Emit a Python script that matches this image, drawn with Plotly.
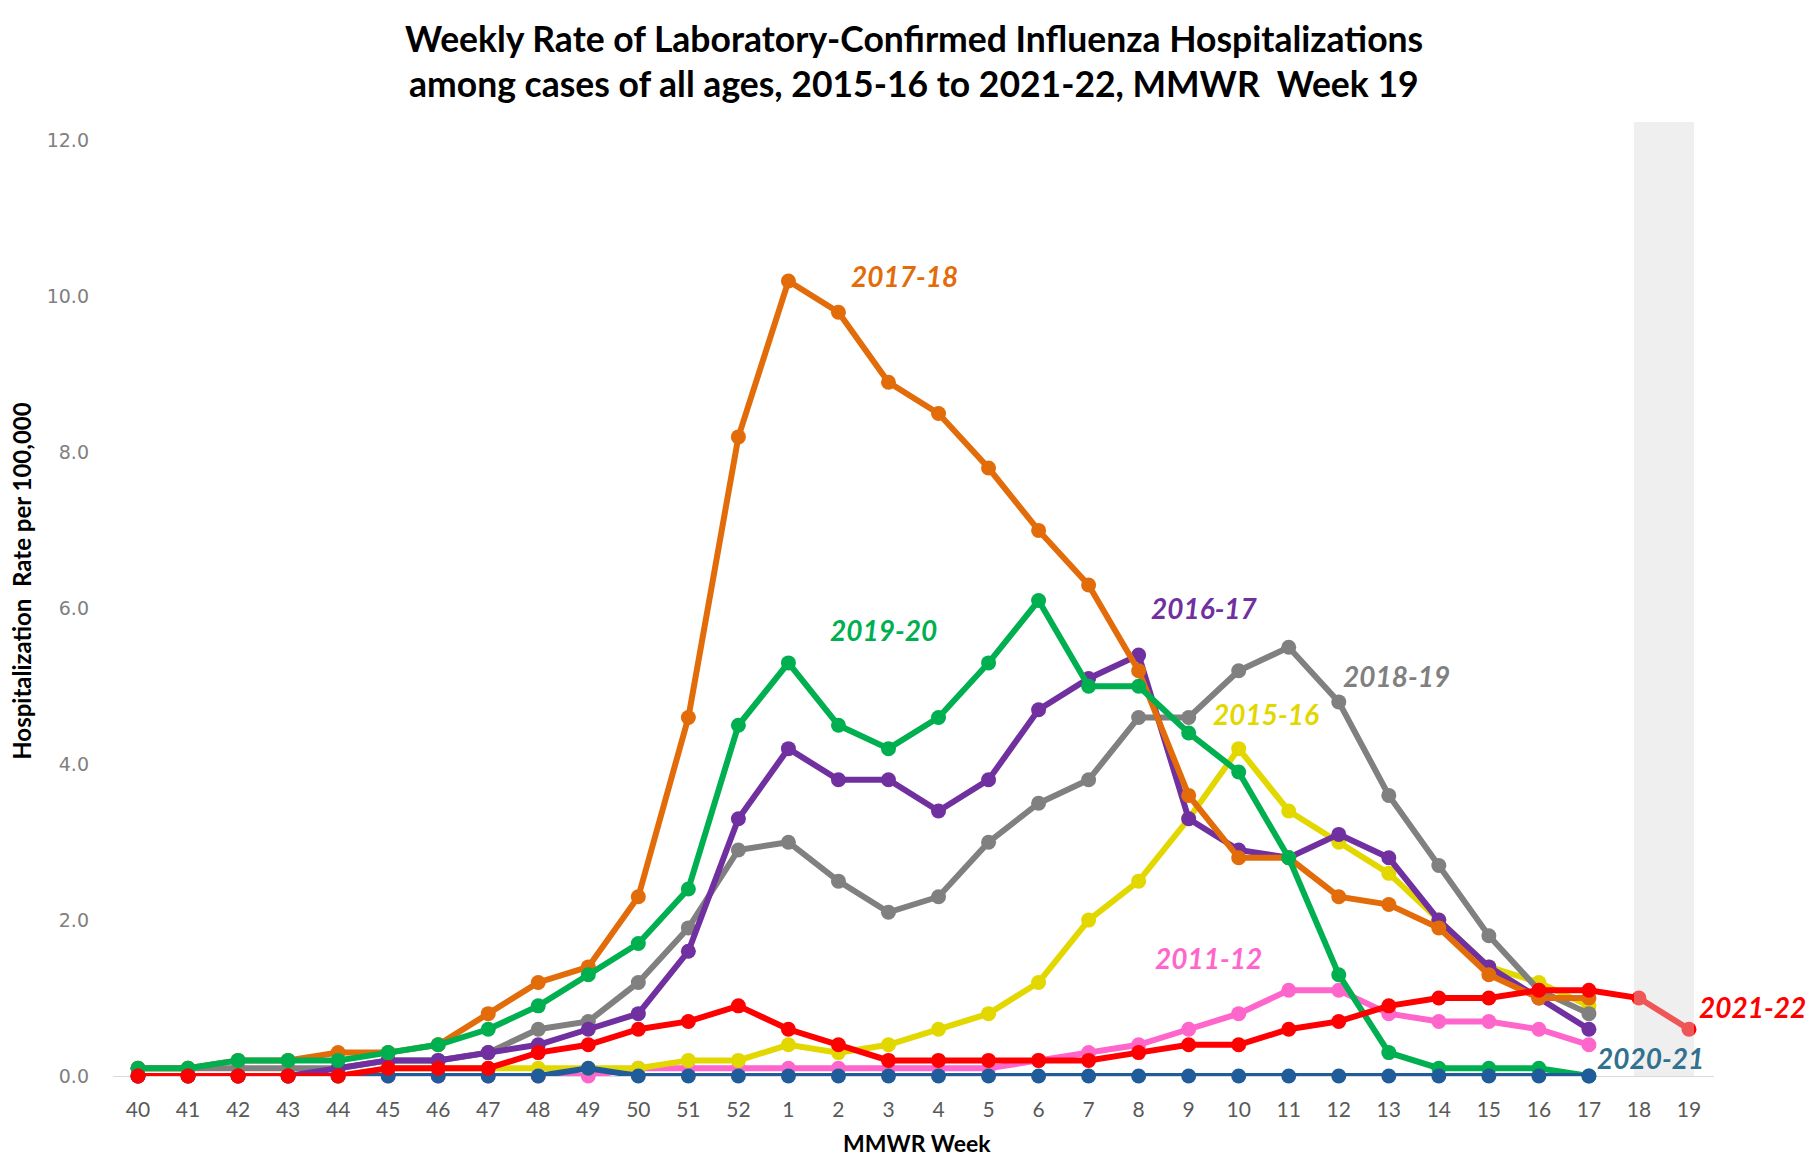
import plotly.graph_objects as go

weeks = ["40", "41", "42", "43", "44", "45", "46", "47", "48", "49", "50", "51", "52",
         "1", "2", "3", "4", "5", "6", "7", "8", "9", "10", "11", "12", "13", "14", "15",
         "16", "17", "18", "19"]

s2011_12 = [0.0, 0.0, 0.0, 0.0, 0.0, 0.0, 0.0, 0.0, 0.0, 0.0, 0.1, 0.1, 0.1,
            0.1, 0.1, 0.1, 0.1, 0.1, 0.2, 0.3, 0.4, 0.6, 0.8, 1.1, 1.1, 0.8, 0.7, 0.7, 0.6, 0.4]
s2015_16 = [0.0, 0.0, 0.0, 0.0, 0.0, 0.1, 0.1, 0.1, 0.1, 0.1, 0.1, 0.2, 0.2,
            0.4, 0.3, 0.4, 0.6, 0.8, 1.2, 2.0, 2.5, 3.3, 4.2, 3.4, 3.0, 2.6, 2.0, 1.4, 1.2, 0.9]
s2018_19 = [0.1, 0.1, 0.1, 0.1, 0.1, 0.2, 0.2, 0.3, 0.6, 0.7, 1.2, 1.9, 2.9,
            3.0, 2.5, 2.1, 2.3, 3.0, 3.5, 3.8, 4.6, 4.6, 5.2, 5.5, 4.8, 3.6, 2.7, 1.8, 1.1, 0.8]
s2016_17 = [0.0, 0.0, 0.0, 0.0, 0.1, 0.2, 0.2, 0.3, 0.4, 0.6, 0.8, 1.6, 3.3,
            4.2, 3.8, 3.8, 3.4, 3.8, 4.7, 5.1, 5.4, 3.3, 2.9, 2.8, 3.1, 2.8, 2.0, 1.4, 1.0, 0.6]
s2017_18 = [0.1, 0.1, 0.2, 0.2, 0.3, 0.3, 0.4, 0.8, 1.2, 1.4, 2.3, 4.6, 8.2,
            10.2, 9.8, 8.9, 8.5, 7.8, 7.0, 6.3, 5.2, 3.6, 2.8, 2.8, 2.3, 2.2, 1.9, 1.3, 1.0, 1.0]
s2019_20 = [0.1, 0.1, 0.2, 0.2, 0.2, 0.3, 0.4, 0.6, 0.9, 1.3, 1.7, 2.4, 4.5,
            5.3, 4.5, 4.2, 4.6, 5.3, 6.1, 5.0, 5.0, 4.4, 3.9, 2.8, 1.3, 0.3, 0.1, 0.1, 0.1, 0.0]
s2020_21 = [0.0, 0.0, 0.0, 0.0, 0.0, 0.0, 0.0, 0.0, 0.0, 0.1, 0.0, 0.0, 0.0,
            0.0, 0.0, 0.0, 0.0, 0.0, 0.0, 0.0, 0.0, 0.0, 0.0, 0.0, 0.0, 0.0, 0.0, 0.0, 0.0, 0.0]
s2021_22 = [0.0, 0.0, 0.0, 0.0, 0.0, 0.1, 0.1, 0.1, 0.3, 0.4, 0.6, 0.7, 0.9,
            0.6, 0.4, 0.2, 0.2, 0.2, 0.2, 0.2, 0.3, 0.4, 0.4, 0.6, 0.7, 0.9, 1.0, 1.0, 1.1, 1.1, 1.0, 0.6]

y_ticks = [0, 2, 4, 6, 8, 10, 12]

series = [
    ("2011-12", s2011_12, "#FF66CC"),
    ("2015-16", s2015_16, "#E2D800"),
    ("2018-19", s2018_19, "#808080"),
    ("2016-17", s2016_17, "#7030A0"),
    ("2017-18", s2017_18, "#E36C0A"),
    ("2019-20", s2019_20, "#00B050"),
    ("2020-21", s2020_21, "#1F5C99"),
    ("2021-22", s2021_22, "#FF0000"),
]

X_MIN, X_MAX = -0.5, 31.5

# label positions (x in week index units, y in rate units) and colours
labels = [
    ("2017-18", 15.33, 10.26, "#E36C0A"),
    ("2019-20", 14.91, 5.72, "#00B050"),
    ("2016-17", 21.31, 6.0, "#7030A0"),
    ("2018-19", 25.16, 5.13, "#808080"),
    ("2015-16", 22.54, 4.65, "#E2D800"),
    ("2011-12", 21.40, 1.51, "#FF66CC"),
    ("2021-22", 32.26, 0.88, "#FF0000"),
    ("2020-21", 30.24, 0.23, "#31718F"),
]

fig = go.Figure()
for name, vals, col in series:
    fig.add_trace(go.Scatter(
        x=list(range(len(vals))), y=vals, name=name, mode="lines+markers",
        line=dict(color=col, width=6), marker=dict(color=col, size=15),
        cliponaxis=False, showlegend=False,
    ))

fig.add_shape(type="rect", xref="x", yref="y", x0=29.9, x1=31.1, y0=0, y1=12.24,
              fillcolor="rgba(215,215,215,0.40)", line=dict(width=0), layer="above")

for text, x, y, col in labels:
    if x > X_MAX:
        xr, xv = "paper", (x - X_MIN) / (X_MAX - X_MIN)
    else:
        xr, xv = "x", x
    fig.add_annotation(x=xv, y=y, xref=xr, yref="y", text="<b><i>" + text + "</i></b>",
                       xanchor="center", yanchor="middle", showarrow=False,
                       font=dict(family="Lato", size=28, color=col))

fig.add_annotation(x=0.5, y=1.088, xref="paper", yref="paper", showarrow=False,
                   xanchor="center", yanchor="middle",
                   text="<b>Weekly Rate of Laboratory-Confirmed Influenza Hospitalizations</b>",
                   font=dict(family="Lato", size=35.5, color="black"))
fig.add_annotation(x=0.5, y=1.040, xref="paper", yref="paper", showarrow=False,
                   xanchor="center", yanchor="middle",
                   text="<b>among cases of all ages, 2015-16 to 2021-22, MMWR  Week 19</b>",
                   font=dict(family="Lato", size=35.5, color="black"))
fig.add_annotation(x=-0.0569, y=0.519, xref="paper", yref="paper", showarrow=False,
                   xanchor="center", yanchor="middle",
                   textangle=-90, text="<b>Hospitalization  Rate per 100,000</b>",
                   font=dict(family="Lato", size=24, color="black"))
fig.add_annotation(x=0.502, y=-0.0705, xref="paper", yref="paper", showarrow=False,
                   xanchor="center", yanchor="middle",
                   text="<b>MMWR Week</b>", font=dict(family="Lato", size=23, color="black"))

fig.update_layout(
    width=1820, height=1158,
    margin=dict(l=105, r=114, t=114, b=90),
    paper_bgcolor="white", plot_bgcolor="white",
    xaxis=dict(range=[X_MIN, X_MAX], tickmode="array", tickvals=list(range(len(weeks))),
               ticktext=weeks, showgrid=False, zeroline=False, showline=True,
               linecolor="#D9D9D9", linewidth=1, layer="below traces", ticks="",
               ticklabelstandoff=15, tickfont=dict(family="Lato", size=21, color="#595959")),
    yaxis=dict(range=[0, 12.24], tickmode="array", tickvals=y_ticks,
               ticktext=["%.1f" % v for v in y_ticks], showgrid=False, zeroline=False,
               showline=False, ticks="", ticklabelstandoff=23,
               tickfont=dict(family="DejaVu Sans", size=19, color="#7F7F7F")),
)

fig.write_html("out.html")
